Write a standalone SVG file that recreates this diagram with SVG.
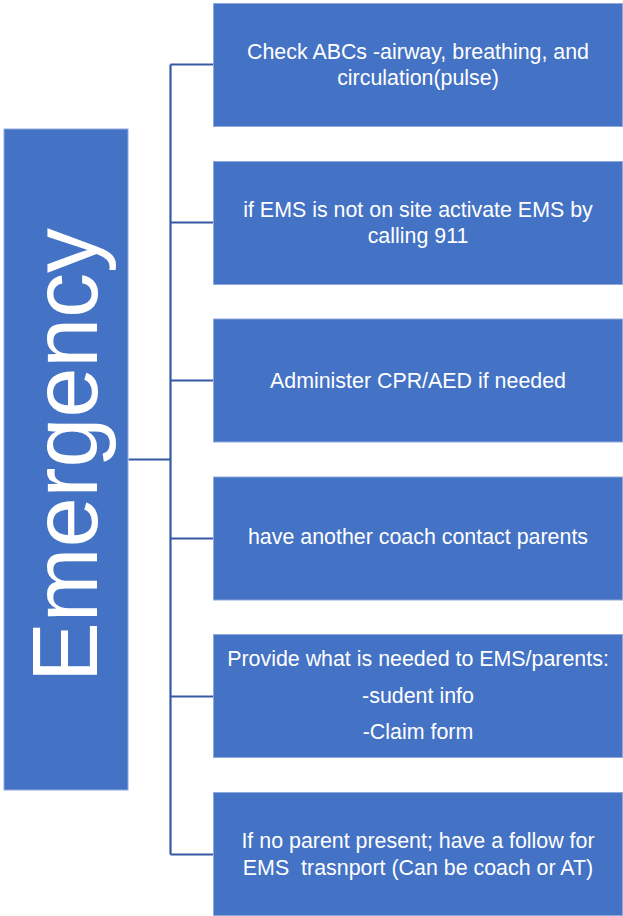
<svg xmlns="http://www.w3.org/2000/svg" width="623" height="916" viewBox="0 0 623 916">
  <style>
    .box { fill: #4472C4; stroke: #8EA9DB; stroke-width: 1; }
    .lbl { fill: #FFFFFF; font-family: "Liberation Sans", Arial, sans-serif; font-size: 21.4px; text-anchor: middle; white-space: pre; }
    .big { fill: #FFFFFF; font-family: "Liberation Sans", Arial, sans-serif; font-size: 92px; text-anchor: middle; }
    .conn { fill: none; stroke: #3559A3; stroke-width: 2.2; }
  </style>

  <!-- bracket connectors -->
  <g id="connectors">
    <path class="conn" d="M128.5,459.5 H170.5"/>
    <path class="conn" d="M170.5,64.5 V854.5"/>
    <path class="conn" d="M170.5,64.5 H213"/>
    <path class="conn" d="M170.5,222.5 H213"/>
    <path class="conn" d="M170.5,380.5 H213"/>
    <path class="conn" d="M170.5,538.5 H213"/>
    <path class="conn" d="M170.5,696.5 H213"/>
    <path class="conn" d="M170.5,854.5 H213"/>
  </g>

  <!-- root node -->
  <g id="emergency">
    <rect class="box" x="4" y="129" width="124" height="661"/>
    <text class="big" transform="translate(97,455) rotate(-90)" textLength="454" lengthAdjust="spacingAndGlyphs">Emergency</text>
  </g>

  <g id="step-abc">
    <rect class="box" x="213.5" y="3.5" width="409" height="123"/>
    <text class="lbl" x="418" y="59">Check ABCs -airway, breathing, and</text>
    <text class="lbl" x="418" y="85">circulation(pulse)</text>
  </g>

  <g id="step-ems">
    <rect class="box" x="213.5" y="161.5" width="409" height="123"/>
    <text class="lbl" x="418" y="217">if EMS is not on site activate EMS by</text>
    <text class="lbl" x="418" y="243">calling 911</text>
  </g>

  <g id="step-cpr">
    <rect class="box" x="213.5" y="319" width="409" height="123"/>
    <text class="lbl" x="418" y="388">Administer CPR/AED if needed</text>
  </g>

  <g id="step-parents">
    <rect class="box" x="213.5" y="477" width="409" height="123"/>
    <text class="lbl" x="418" y="544">have another coach contact parents</text>
  </g>

  <g id="step-provide">
    <rect class="box" x="213.5" y="634.5" width="409" height="123"/>
    <text class="lbl" x="418" y="666">Provide what is needed to EMS/parents:</text>
    <text class="lbl" x="418" y="703">-sudent info</text>
    <text class="lbl" x="418" y="739">-Claim form</text>
  </g>

  <g id="step-transport">
    <rect class="box" x="213.5" y="792.5" width="409" height="123"/>
    <text class="lbl" x="418" y="848">If no parent present; have a follow for</text>
    <text class="lbl" x="418" y="875">EMS  trasnport (Can be coach or AT)</text>
  </g>
</svg>
